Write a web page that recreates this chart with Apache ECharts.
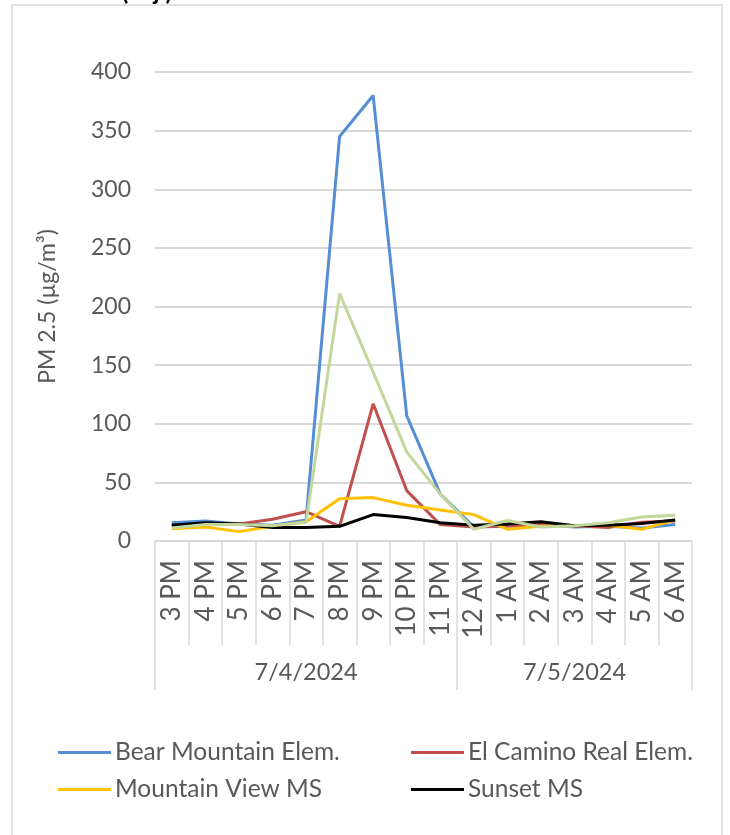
<!DOCTYPE html>
<html><head><meta charset="utf-8">
<script src="https://cdn.jsdelivr.net/npm/echarts@6/dist/echarts.min.js"></script>
<style>html,body{margin:0;padding:0;background:#fff}#c{width:730px;height:835px}</style>
</head><body><div id="c"></div>
<script>
const categories = ['3 PM','4 PM','5 PM','6 PM','7 PM','8 PM','9 PM','10 PM','11 PM','12 AM','1 AM','2 AM','3 AM','4 AM','5 AM','6 AM'];
const dateGroups = ['7/4/2024','7/5/2024'];
const dateGroupSizes = [9, 7];
const bearMountain = [15.5, 17, 14.5, 13.5, 18, 345, 380, 107, 40, 12, 12.5, 14, 12, 12.5, 11, 14];
const elCamino = [13.5, 15, 14.5, 18.5, 25, 12.5, 117, 43, 14, 12, 13, 14, 13, 11.5, 16, 17];
const mountainView = [10.5, 12, 8, 12.5, 16.5, 36, 37, 30.5, 26.5, 22.5, 10, 12.5, 13, 13.5, 10, 18];
const sunset = [13.5, 15.5, 14.5, 11.5, 11.5, 12.5, 22.5, 20, 15.5, 13.5, 14.5, 16.5, 13, 13.5, 15, 18];
const fifthSite = [11, 14, 14, 13, 16, 211, 144, 76, 40, 10, 17.5, 12, 13, 15.5, 20.5, 22];
const yMin = 0, yMax = 400, yStep = 50;

// build second-level (date) axis
const groupStarts = [];
const dateAxisData = new Array(categories.length).fill('');
let start = 0;
dateGroups.forEach((g, i) => {
  groupStarts.push(start);
  dateAxisData[start + Math.floor((dateGroupSizes[i] - 1) / 2)] = g;
  start += dateGroupSizes[i];
});

const FONT = 'Lato';
const TXT = '#595959';
const GRID = '#d9d9d9';

const chart = echarts.init(document.getElementById('c'), null, {renderer: 'canvas'});
const mk = (name, data, color) => ({
  name, type: 'line', data, showSymbol: false, symbol: 'none',
  lineStyle: {color, width: 3}, itemStyle: {color}, animation: false
});
chart.setOption({
  animation: false,
  textStyle: {fontFamily: FONT},
  graphic: [
    {type: 'rect', shape: {x: 12, y: 5, width: 710, height: 900}, style: {fill: 'none', stroke: GRID, lineWidth: 1.5}, silent: true},
    {type: 'text', x: 172, y: 4, style: {text: 'PM 2.5 (adj.)', font: 'bold 24px ' + FONT, fill: '#000', align: 'right', verticalAlign: 'bottom'}, silent: true}
  ],
  grid: {left: 155, right: 38, top: 72, bottom: 294, containLabel: false},
  xAxis: [
    {
      type: 'category', data: categories, position: 'bottom', boundaryGap: true,
      axisLine: {show: true, lineStyle: {color: GRID, width: 1.5}},
      axisTick: {show: true, interval: 0, length: 104, lineStyle: {color: GRID, width: 1.5}},
      axisLabel: {interval: 0, rotate: 90, margin: 19, fontSize: 26, color: TXT, fontFamily: FONT},
      splitLine: {show: false}
    },
    {
      type: 'category', data: dateAxisData, position: 'bottom', offset: 0, boundaryGap: true,
      axisLine: {show: false},
      axisTick: {show: true, length: 149, interval: (i) => groupStarts.includes(i), lineStyle: {color: GRID, width: 1.5}},
      axisLabel: {interval: 0, margin: 119, fontSize: 23.5, color: TXT, fontFamily: FONT},
      splitLine: {show: false}
    }
  ],
  yAxis: {
    type: 'value', min: yMin, max: yMax, interval: yStep,
    name: 'PM 2.5 (µg/m³)', nameLocation: 'middle', nameGap: 96, nameRotate: 90,
    nameTextStyle: {fontSize: 23, color: TXT, fontFamily: FONT},
    axisLine: {show: false}, axisTick: {show: false},
    axisLabel: {fontSize: 23, color: TXT, margin: 24, fontFamily: FONT},
    splitLine: {lineStyle: {color: GRID, width: 2}}
  },
  legend: [
    {data: ['Bear Mountain Elem.', 'Mountain View MS'], orient: 'vertical', left: 53, top: 735, itemWidth: 53, itemHeight: 3, icon: 'rect', itemGap: 12,
     textStyle: {fontSize: 24.5, color: TXT, fontFamily: FONT, padding: [0,0,0,-1]}},
    {data: ['El Camino Real Elem.', 'Sunset MS'], orient: 'vertical', left: 406, top: 735, itemWidth: 53, itemHeight: 3, icon: 'rect', itemGap: 12,
     textStyle: {fontSize: 24.5, color: TXT, fontFamily: FONT, padding: [0,0,0,-1]}}
  ],
  series: [
    mk('Bear Mountain Elem.', bearMountain, '#558ED5'),
    mk('El Camino Real Elem.', elCamino, '#C0504D'),
    mk('Mountain View MS', mountainView, '#FFC000'),
    mk('Sunset MS', sunset, '#000000'),
    mk('Fifth site', fifthSite, '#C3D69B')
  ]
});
</script></body></html>
